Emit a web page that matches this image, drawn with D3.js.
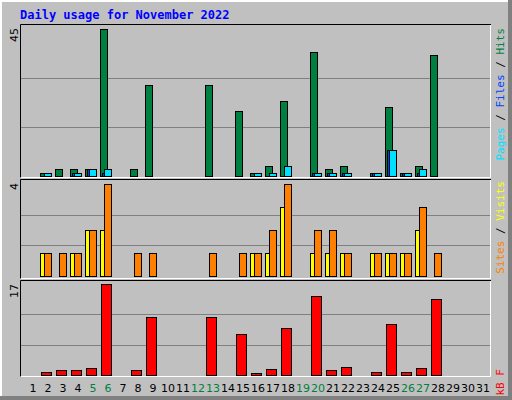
<!DOCTYPE html>
<html><head><meta charset="utf-8">
<script src="https://cdn.jsdelivr.net/npm/d3@7"></script>
<style>body{margin:0;background:#fff}</style>
</head><body><div id="chart"></div>
<script>
var days = d3.range(1, 32);
var weekends = [5, 6, 12, 13, 19, 20, 26, 27];
var hits  = [0,1,2,2,2,45,0,2,28,0,0,0,28,0,20,1,3,23,0,38,2,3,0,1,21,1,3,37,0,0,0];
var files = [0,0,0,1,2,1,0,0,0,0,0,0,0,0,0,0,0,0,0,1,1,1,0,1,8,1,1,0,0,0,0];
var pages = [0,1,0,1,2,2,0,0,0,0,0,0,0,0,0,1,1,3,0,1,1,1,0,1,8,1,2,0,0,0,0];
var visits = [0,1,0,1,2,2,0,0,0,0,0,0,0,0,0,1,1,3,0,1,1,1,0,1,1,1,2,0,0,0,0];
var sites  = [0,1,1,1,2,4,0,1,1,0,0,0,1,0,1,1,2,4,0,2,2,1,0,1,1,1,3,1,0,0,0];
var kbytes = [0,0.56,0.93,0.93,1.3,17,0,0.93,10.8,0,0,0,10.8,0,7.7,0.37,1.1,8.8,0,14.8,0.93,1.5,0,0.56,9.5,0.56,1.3,14.2,0,0,0];

var width = 512, height = 400;
var svg = d3.select("#chart").append("svg").attr("width", width).attr("height", height);
var mono = "DejaVu Sans Mono, monospace";

// outer frame
svg.append("rect").attr("width", width).attr("height", height).attr("fill", "#808080");
svg.append("rect").attr("width", width - 4).attr("height", height - 4).attr("fill", "#fff");
svg.append("rect").attr("x", 2).attr("y", 2).attr("width", width - 6).attr("height", height - 6).attr("fill", "#c0c0c0");

svg.append("text").attr("x", 20).attr("y", 19).attr("fill", "#0000ff")
    .attr("font-family", mono).attr("font-size", 12).attr("font-weight", "bold")
    .text("Daily usage for November 2022");

var x = d3.scaleBand().domain(days).range([25, 490]);

var panels = [
    {top: 24, bottom: 178, y: d3.scaleLinear().domain([0, 45]).range([176, 29]), max: "45"},
    {top: 179, bottom: 279, y: d3.scaleLinear().domain([0, 4]).range([276, 184]), max: "4"},
    {top: 280, bottom: 377, y: d3.scaleLinear().domain([0, 17]).range([375, 284]), max: "17"}
];

panels.forEach(function(p) {
    var dom = p.y.domain()[1];
    [1, 2].forEach(function(k) {
        svg.append("line").attr("x1", 21).attr("x2", 490)
            .attr("y1", Math.round(p.y(dom * k / 3)) + 0.5).attr("y2", Math.round(p.y(dom * k / 3)) + 0.5)
            .attr("stroke", "#808080");
    });
    svg.append("path").attr("d", "M20.5," + (p.bottom) + "V" + (p.top + 0.5) + "H491")
        .attr("fill", "none").attr("stroke", "#000");
    svg.append("path").attr("d", "M20.5," + (p.bottom - 0.5) + "H490.5V" + (p.top + 1))
        .attr("fill", "none").attr("stroke", "#fff");
    svg.append("text").attr("transform", "translate(18," + (p.top + 4) + ") rotate(-90)")
        .attr("text-anchor", "end").attr("font-family", "DejaVu Sans, sans-serif").attr("font-size", 11)
        .text(p.max);
});

function bars(values, panel, dx, w, color) {
    svg.append("g").selectAll("rect")
        .data(values.map(function(v, i) { return {day: days[i], v: v}; }).filter(function(d) { return d.v > 0; }))
        .enter().append("rect")
        .attr("x", function(d) { return x(d.day) + dx + 0.5; })
        .attr("y", function(d) { return Math.round(panel.y(d.v)) + 0.5; })
        .attr("width", w)
        .attr("height", function(d) { return Math.round(panel.y(0) - panel.y(d.v)); })
        .attr("fill", color).attr("stroke", "#000");
}

bars(hits, panels[0], 0, 7, "#008040");
bars(files, panels[0], 2, 7, "#0040ff");
bars(pages, panels[0], 4, 7, "#00e0ff");
bars(visits, panels[1], 0, 7, "#ffff00");
bars(sites, panels[1], 4, 7, "#ff8000");
bars(kbytes, panels[2], 1, 10, "#ff0000");

// day labels
svg.append("g").selectAll("text").data(days).enter().append("text")
    .attr("x", function(d) { return x(d) + 8; })
    .attr("y", 392)
    .attr("text-anchor", "middle")
    .attr("font-family", "DejaVu Sans, sans-serif").attr("font-size", 11)
    .attr("fill", function(d) { return weekends.indexOf(d) >= 0 ? "#008040" : "#000"; })
    .text(function(d) { return d; });

// right side legends
function legend(yEnd, parts) {
    var t = svg.append("text").attr("transform", "translate(504," + yEnd + ") rotate(-90)")
        .attr("text-anchor", "end").attr("font-family", mono).attr("font-size", 11);
    parts.forEach(function(p) { t.append("tspan").attr("fill", p[1]).text(p[0]); });
}
legend(28, [["Pages", "#00e0ff"], [" / ", "#000"], ["Files", "#0040ff"], [" / ", "#000"], ["Hits", "#008040"]]);
legend(181, [["Sites", "#ff8000"], [" / ", "#000"], ["Visits", "#ffff00"]]);
legend(369, [["kB F", "#ff0000"]]);
</script>
</body></html>
